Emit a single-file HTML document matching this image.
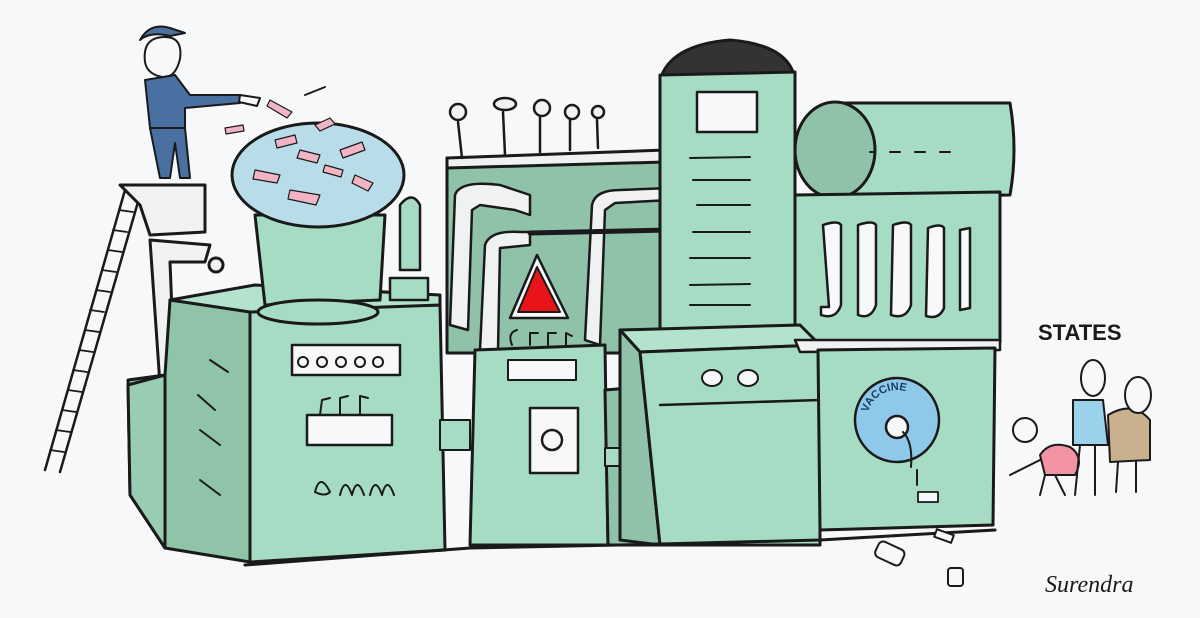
<!DOCTYPE html>
<html><head><meta charset="utf-8"><style>
html,body{margin:0;padding:0;background:#f7f8fa;}
svg{display:block}
</style></head><body>
<svg width="1200" height="618" viewBox="0 0 1200 618" xmlns="http://www.w3.org/2000/svg" stroke="#1a1a1a" stroke-width="3" stroke-linejoin="round" stroke-linecap="round">
<rect x="0" y="0" width="1200" height="618" fill="#f7f8fa" stroke="none"/>
<!-- Ladder -->
<g fill="none" stroke-width="2.5">
<line x1="45" y1="470" x2="125" y2="190"/><line x1="60" y1="472" x2="140" y2="195"/>
<g stroke-width="1.8">
<line x1="50" y1="450" x2="64" y2="452"/><line x1="56" y1="430" x2="70" y2="432"/><line x1="62" y1="410" x2="76" y2="412"/><line x1="68" y1="390" x2="82" y2="392"/><line x1="73" y1="370" x2="87" y2="372"/><line x1="79" y1="350" x2="93" y2="352"/><line x1="85" y1="330" x2="99" y2="332"/><line x1="90" y1="310" x2="104" y2="312"/><line x1="96" y1="290" x2="110" y2="292"/><line x1="102" y1="270" x2="116" y2="272"/><line x1="108" y1="250" x2="122" y2="252"/><line x1="113" y1="230" x2="127" y2="232"/><line x1="119" y1="210" x2="133" y2="212"/>
</g></g>
<!-- platform / pipe -->
<path d="M120 185 L205 185 L205 232 L150 235 L140 205 Z" fill="#f0f2f2"/>
<path d="M150 240 L160 385 L175 385 L170 262 L205 262 L210 245 Z" fill="#f0f2f2"/>
<circle cx="216" cy="265" r="7" fill="#f0f2f2"/>
<!-- Left block side -->
<path d="M128 380 L165 375 L170 300 L250 310 L250 562 L165 548 L130 495 Z" fill="#8fc4a9"/>
<path d="M128 385 L165 375 L165 548 L130 495 Z" fill="#98cdb3"/>
<!-- Left block front -->
<path d="M250 310 L440 305 L445 550 L250 562 Z" fill="#a6dcc4"/>
<path d="M170 300 L255 285 L440 295 L440 305 L250 312 Z" fill="#b3e3cd"/>
<rect x="292" y="345" width="108" height="30" fill="#f7f8fa" stroke-width="2.5"/>
<g fill="none" stroke-width="2"><circle cx="303" cy="362" r="5"/><circle cx="322" cy="362" r="5"/><circle cx="341" cy="362" r="5"/><circle cx="360" cy="362" r="5"/><circle cx="378" cy="362" r="5"/></g>
<rect x="307" y="415" width="85" height="30" fill="#f7f8fa" stroke-width="2.5"/>
<g fill="none" stroke-width="2"><path d="M320 415 L322 400 L330 398"/><path d="M340 415 L340 398 L348 396"/><path d="M360 415 L360 396 L368 398"/></g>
<path d="M315 492 q5 -20 15 0 q-5 5 -15 0 M340 495 q5 -20 12 0 q5 -20 12 0 M370 495 q5 -20 12 0 q5 -20 12 0" fill="none" stroke-width="2"/>
<g stroke-width="2"><line x1="198" y1="395" x2="215" y2="410"/><line x1="200" y1="430" x2="220" y2="445"/><line x1="200" y1="480" x2="220" y2="495"/><line x1="210" y1="360" x2="228" y2="372"/></g>
<!-- Funnel -->
<path d="M255 215 L385 215 L380 300 L265 305 Z" fill="#a6dcc4"/>
<ellipse cx="318" cy="312" rx="60" ry="12" fill="#a6dcc4"/>
<ellipse cx="318" cy="175" rx="86" ry="52" fill="#b9dde8"/>
<g fill="#f0b4c4" stroke="#1a1a1a" stroke-width="1.2">
<path d="M255 170 l25 5 l-3 8 l-24 -4z"/><path d="M290 190 l30 5 l-4 10 l-28 -6z"/><path d="M340 150 l22 -8 l3 8 l-22 8z"/><path d="M300 150 l20 5 l-3 8 l-20 -5z"/><path d="M355 175 l18 8 l-5 8 l-16 -8z"/><path d="M275 140 l20 -5 l2 8 l-20 5z"/><path d="M315 125 l15 -7 l5 6 l-15 7z"/><path d="M270 100 l22 12 l-5 6 l-20 -12z"/><path d="M225 128 l18 -3 l1 6 l-18 3z"/><path d="M325 165 l18 5 l-2 7 l-18 -5z"/>
</g>
<path d="M305 95 l20 -8" fill="none" stroke-width="2"/>
<!-- Man -->
<path d="M145 62 q-3 -25 20 -25 q18 0 15 22 q-5 20 -18 18 q-15 -3 -17 -15z" fill="#f7f8fa" stroke-width="2"/>
<path d="M140 40 q10 -18 30 -12 l15 5 l-15 3 q-20 -5 -30 4z" fill="#4a6fa1" stroke-width="2"/>
<path d="M145 80 l30 -5 l15 20 l50 0 l0 8 l-55 5 l0 20 l-35 0 z" fill="#4a6fa1" stroke-width="2"/>
<path d="M150 128 l10 50 l10 0 l5 -35 l5 35 l10 0 l-5 -50z" fill="#4a6fa1" stroke-width="2"/>
<path d="M240 95 l20 3 l-3 8 l-18 -4z" fill="#f7f8fa" stroke-width="2"/>
<!-- small pump left of middle -->
<path d="M400 205 q12 -15 20 0 l0 65 l-20 0z" fill="#a6dcc4" stroke-width="2.5"/>
<rect x="390" y="278" width="38" height="22" fill="#a6dcc4" stroke-width="2.5"/>
<!-- Middle back panel -->
<rect x="447" y="158" width="215" height="195" fill="#8fc2a8"/>
<path d="M447 158 L665 150 L665 162 L447 168 Z" fill="#f0f2f2"/>
<g stroke-width="2.5" fill="#f0f2f2">
<line x1="458" y1="122" x2="462" y2="158"/><circle cx="458" cy="112" r="8"/>
<line x1="503" y1="112" x2="505" y2="155"/><ellipse cx="505" cy="104" rx="11" ry="6"/>
<line x1="540" y1="115" x2="540" y2="152"/><circle cx="542" cy="108" r="8"/>
<line x1="570" y1="118" x2="570" y2="150"/><circle cx="572" cy="112" r="7"/>
<line x1="597" y1="120" x2="598" y2="148"/><circle cx="598" cy="112" r="6"/>
</g>
<!-- pipes -->
<path d="M450 325 L455 195 Q460 180 500 185 L530 195 L530 215 L515 210 L480 205 L472 210 L468 330 Z" fill="#f0f2f2" stroke-width="2.5"/>
<path d="M480 350 L485 245 Q490 230 520 232 L530 232 L530 245 L500 248 L498 350Z" fill="#f0f2f2" stroke-width="2.5"/>
<path d="M585 340 L592 205 Q595 190 620 190 L670 188 L670 200 L615 203 L605 210 L600 345 Z" fill="#f0f2f2" stroke-width="2.5"/>
<line x1="530" y1="233" x2="670" y2="230" stroke-width="5"/>
<!-- triangle -->
<path d="M537 255 L510 318 L568 318 Z" fill="#f7f8fa" stroke-width="2.5"/>
<path d="M537 267 L518 312 L560 312 Z" fill="#e8141a" stroke-width="2"/>
<g fill="none" stroke-width="2"><path d="M512 345 q-5 -12 5 -15"/><path d="M530 345 l0 -12 l8 0"/><path d="M548 345 l0 -12 l8 0"/><path d="M566 345 l0 -12 l6 3"/></g>
<!-- middle front cabinet -->
<path d="M475 350 L605 345 L608 545 L470 545 Z" fill="#a6dcc4"/>
<rect x="508" y="360" width="68" height="20" fill="#f7f8fa" stroke-width="2"/>
<rect x="530" y="408" width="48" height="65" fill="#f7f8fa" stroke-width="2.5"/>
<circle cx="552" cy="440" r="10" fill="#f7f8fa" stroke-width="2.5"/>
<rect x="440" y="420" width="30" height="30" fill="#a6dcc4" stroke-width="2"/>
<path d="M605 390 L665 385 L665 545 L608 545 Z" fill="#8fc2a8"/>
<rect x="605" y="448" width="30" height="18" fill="#a6dcc4" stroke-width="2"/>
<!-- Tower -->
<path d="M660 80 Q670 45 730 40 Q790 45 795 80 Z" fill="#333"/>
<path d="M660 75 L795 72 L795 330 L660 332 Z" fill="#a6dcc4"/>
<rect x="697" y="92" width="60" height="40" fill="#f7f8fa" stroke-width="2.5"/>
<g stroke-width="2"><line x1="690" y1="158" x2="750" y2="157"/><line x1="693" y1="180" x2="750" y2="180"/><line x1="697" y1="205" x2="750" y2="205"/><line x1="693" y1="232" x2="750" y2="232"/><line x1="690" y1="258" x2="750" y2="258"/><line x1="690" y1="285" x2="750" y2="284"/><line x1="690" y1="305" x2="750" y2="305"/></g>
<!-- Right cylinder -->
<path d="M835 103 L1010 103 Q1018 150 1010 195 L835 198 Z" fill="#a6dcc4"/>
<ellipse cx="835" cy="150" rx="40" ry="48" fill="#8fc2a8"/>
<g stroke-width="2"><line x1="870" y1="152" x2="875" y2="152"/><line x1="890" y1="152" x2="900" y2="152"/><line x1="915" y1="152" x2="925" y2="152"/><line x1="940" y1="152" x2="950" y2="152"/></g>
<!-- right upper box -->
<path d="M795 195 L1000 192 L1000 342 L795 345 Z" fill="#a6dcc4"/>
<g fill="#f7f8fa" stroke-width="2.5">
<path d="M823 225 q15 -5 18 0 l0 80 q-5 15 -20 10 l0 -8 l8 0z"/><path d="M858 225 q15 -5 18 0 l0 80 q-5 15 -18 10z"/><path d="M893 225 q15 -5 18 0 l0 80 q-5 15 -20 10z"/><path d="M928 228 q13 -5 16 0 l0 80 q-5 12 -18 8z"/><path d="M960 230 l10 -2 l0 80 l-10 2z"/>
</g>
<!-- lower right -->
<path d="M620 330 L800 325 L820 345 L640 352 Z" fill="#b3e3cd"/>
<path d="M620 330 L640 352 L660 545 L620 540 Z" fill="#8fc2a8"/>
<path d="M640 352 L820 345 L820 545 L660 545 Z" fill="#a6dcc4"/>
<line x1="660" y1="405" x2="820" y2="400" stroke-width="2.5"/>
<g fill="#f7f8fa" stroke-width="2"><ellipse cx="712" cy="378" rx="10" ry="8"/><ellipse cx="748" cy="378" rx="10" ry="8"/></g>
<path d="M795 340 L1000 340 L1000 350 L800 352 Z" fill="#f0f2f2" stroke-width="2.5"/>
<path d="M818 350 L995 348 L993 525 L820 530 Z" fill="#a6dcc4"/>
<circle cx="897" cy="420" r="42" fill="#8fc9ea" stroke-width="2.5"/>
<circle cx="897" cy="427" r="11" fill="#f7f8fa" stroke-width="2.5"/>
<path id="arc" d="M867 420 A30 30 0 0 1 927 420" fill="none" stroke="none"/>
<text font-family="Liberation Sans, sans-serif" font-size="11" font-weight="bold" fill="#1a4060" stroke="none"><textPath href="#arc" startOffset="8%">VACCINE</textPath></text>
<g fill="none" stroke-width="2"><path d="M903 432 q10 10 8 35"/><path d="M917 470 l0 15"/></g>
<rect x="918" y="492" width="20" height="10" fill="#f7f8fa" stroke-width="1.8"/>
<!-- ground line -->
<path d="M245 565 L470 548 L620 545 L820 540 L995 530" fill="none" stroke-width="3"/>
<!-- bottles -->
<g stroke-width="2" fill="#f7f8fa"><rect x="876" y="545" width="28" height="17" rx="5" transform="rotate(25 890 553)"/><rect x="935" y="532" width="18" height="8" transform="rotate(20 944 536)"/><rect x="948" y="568" width="15" height="18" rx="3"/></g>
<!-- people -->
<g stroke-width="2">
<path d="M1040 455 q10 -15 30 -8 q15 10 5 28 l-30 0z" fill="#f193a3"/>
<circle cx="1025" cy="430" r="12" fill="#f7f8fa"/>
<path d="M1045 475 l-5 20 m15 -20 l10 20 M1040 460 l-30 15" fill="none"/>
<path d="M1073 400 l30 0 l5 45 l-35 0z" fill="#9ad2ec"/>
<ellipse cx="1093" cy="378" rx="12" ry="18" fill="#f7f8fa"/>
<path d="M1080 445 l-5 50 m20 -50 l0 50" fill="none"/>
<path d="M1108 415 q25 -15 42 5 l0 40 l-40 2z" fill="#c9b18d"/>
<ellipse cx="1138" cy="395" rx="13" ry="18" fill="#f7f8fa"/>
<path d="M1118 462 l-2 30 m20 -30 l0 30" fill="none"/>
</g>
<text x="1038" y="340" font-family="Liberation Sans, sans-serif" font-weight="bold" font-size="22" fill="#1a1a1a" stroke="none">STATES</text>
<text x="1045" y="592" font-family="Liberation Serif, serif" font-style="italic" font-size="24" fill="#1a1a1a" stroke="none">Surendra</text>
</svg>
</body></html>
